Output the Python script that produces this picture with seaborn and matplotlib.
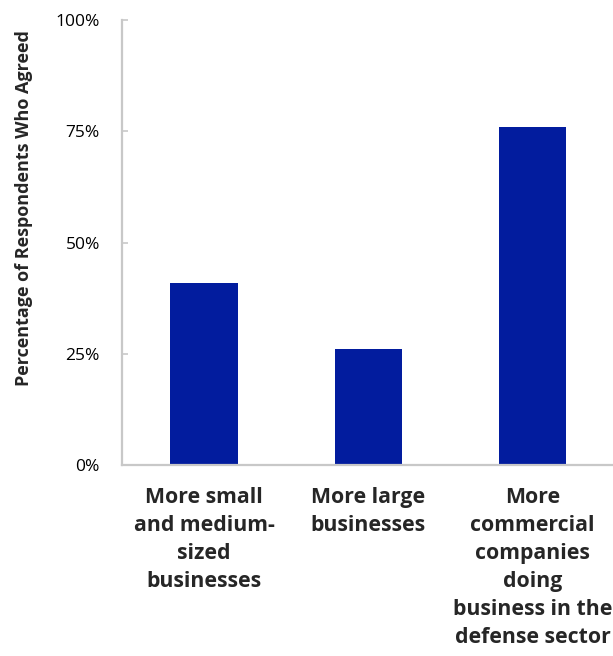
import matplotlib
matplotlib.use("Agg")
import matplotlib.pyplot as plt
import seaborn as sns
import pandas as pd
from matplotlib.ticker import PercentFormatter

categories = [
    "More small\nand medium-\nsized\nbusinesses",
    "More large\nbusinesses",
    "More\ncommercial\ncompanies\ndoing\nbusiness in the\ndefense sector",
]
agreed_pct = [41, 26, 76]
y_ticks = [0, 25, 50, 75, 100]

sns.set_theme(style="white")
plt.rcParams["font.family"] = ["Open Sans", "DejaVu Sans"]

df = pd.DataFrame({"category": categories, "agreed": agreed_pct})

fig = plt.figure(figsize=(6.13, 6.56), dpi=100)
ax = fig.add_axes([0.199, 0.291, 0.804, 0.6785])

sns.barplot(data=df, x="category", y="agreed", color="#021c9e",
            width=0.41, saturation=1, ax=ax, edgecolor="none")

ax.set_xlim(-0.5, 2.5)
ax.set_ylim(0, 100)
ax.set_yticks(y_ticks)
ax.yaxis.set_major_formatter(PercentFormatter(decimals=0))

spine_color = "#c8c8c8"
for side in ["top", "right"]:
    ax.spines[side].set_visible(False)
for side in ["left", "bottom"]:
    ax.spines[side].set_color(spine_color)
    ax.spines[side].set_linewidth(1.6)

ax.tick_params(axis="y", direction="in", length=4, width=1.2, color=spine_color,
               pad=16, labelsize=12.5, labelcolor="black", left=True)
ax.tick_params(axis="x", length=0, pad=16, labelsize=15.3)
for lbl in ax.get_xticklabels():
    lbl.set_fontweight("bold")
    lbl.set_linespacing(1.43)
    lbl.set_verticalalignment("top")

ax.set_xlabel("")
ax.set_ylabel("Percentage of Respondents Who Agreed", fontsize=13,
              fontweight="bold")
ax.yaxis.set_label_coords(-0.18, 0.578)
ax.grid(False)

fig.savefig("out.png", dpi=100)
